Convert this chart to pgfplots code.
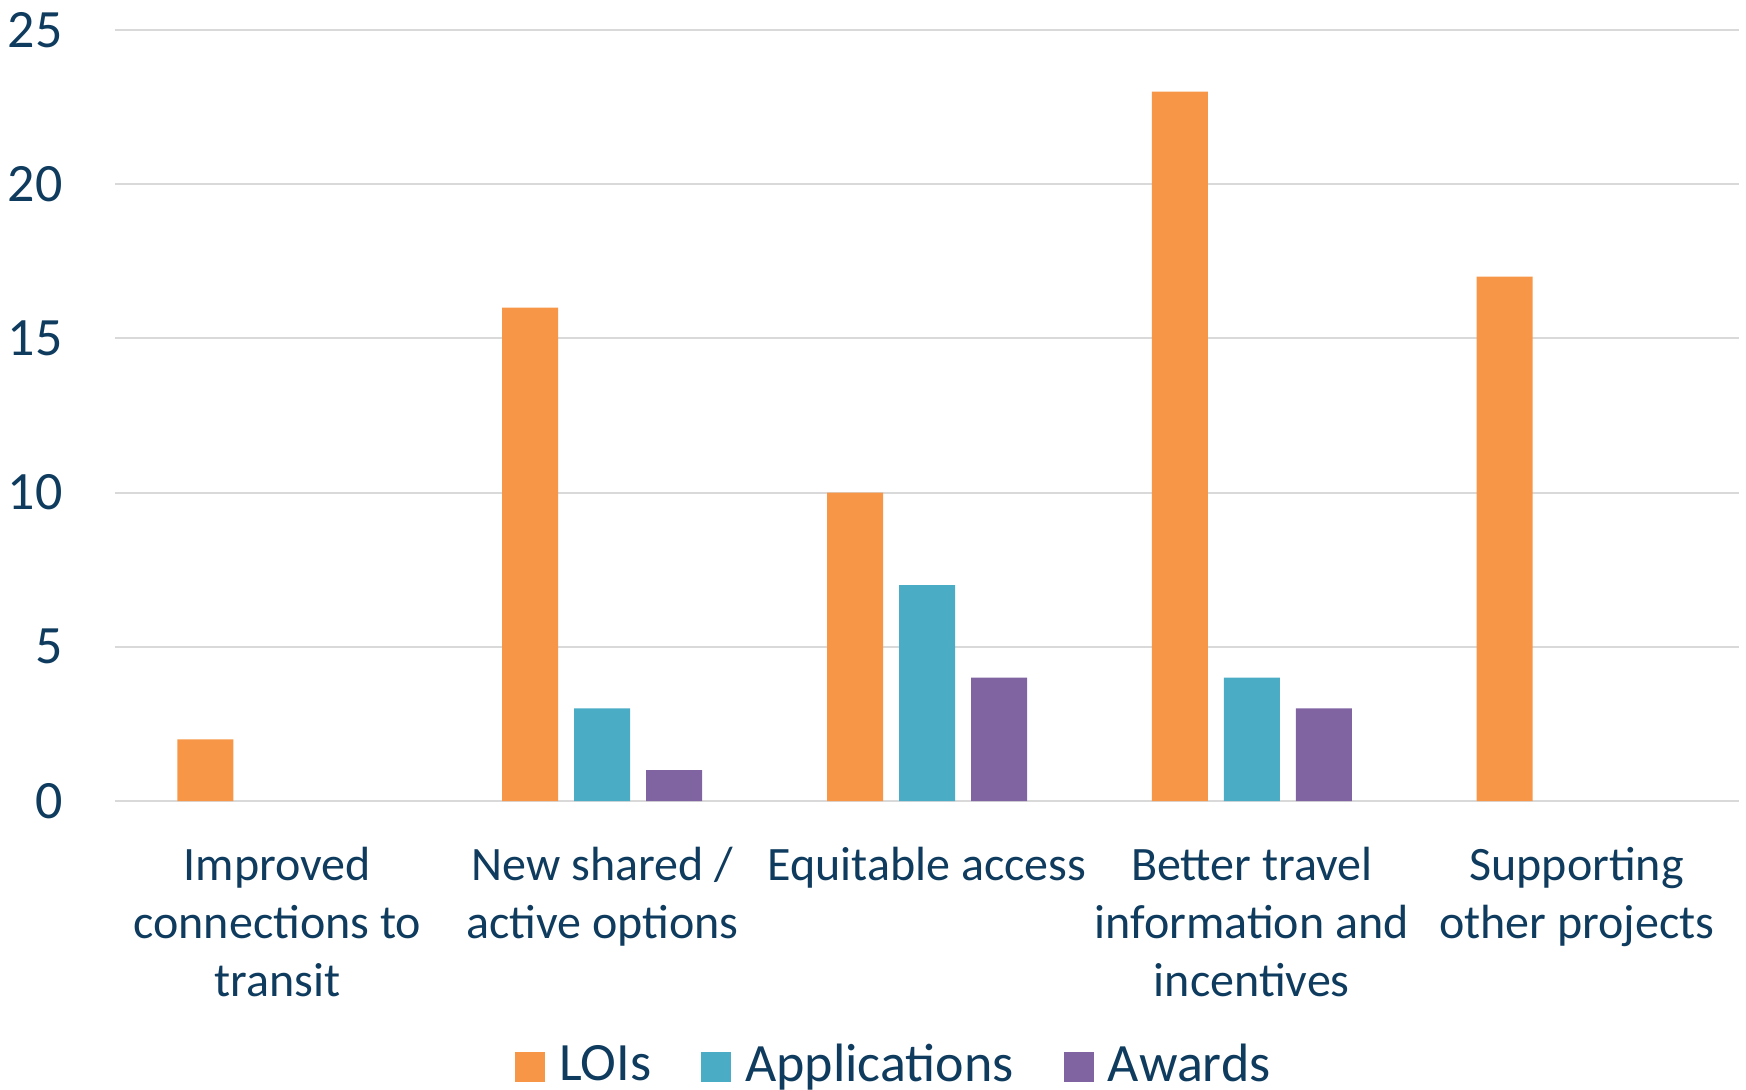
\documentclass[border=0pt]{standalone}
\usepackage{fontspec}
\setmainfont{Carlito}
\usepackage{pgfplots}
\pgfplotsset{compat=1.18}
\definecolor{loi}{HTML}{F79646}
\definecolor{app}{HTML}{4BACC6}
\definecolor{awd}{HTML}{8064A2}
\definecolor{txt}{HTML}{0F3C5E}
\definecolor{gridc}{HTML}{D9D9D9}

\begin{document}
\begin{tikzpicture}
\useasboundingbox (0,0) rectangle (873pt,544.5pt);
\begin{axis}[
    at={(57.5pt,144pt)}, anchor=south west,
    width=812pt, height=385.5pt, scale only axis,
    ybar=8pt, bar width=28pt,
    xmin=-0.5, xmax=4.5, ymin=0, ymax=25,
    xtick={0,...,4}, ytick={0,5,...,25},
    xticklabels={{Improved\\connections to\\transit},
                 {New shared /\\active options},
                 {Equitable access},
                 {Better travel\\information and\\incentives},
                 {Supporting\\other projects}},
    axis line style={draw=none},
    major tick length=0pt,
    ymajorgrids,
    grid style={gridc, line width=1pt},
    /pgf/number format/assume math mode=true,
    xticklabel style={font=\fontsize{24}{29}\selectfont, text=txt, align=center,
                      anchor=north, inner sep=0pt, yshift=-23pt},
    yticklabel style={font=\fontsize{27}{32}\selectfont, text=txt,
                      anchor=east, inner sep=0pt, xshift=-26pt},
    legend columns=3,
    legend style={at={(0.479,-0.342)}, anchor=center, draw=none, fill=none,
                  font=\fontsize{27}{32}\selectfont, text=txt,
                  nodes={inner sep=0pt},
                  /tikz/every odd column/.append style={column sep=7pt},
                  /tikz/every even column/.append style={column sep=25pt}},
    legend image code/.code={\fill[#1] (0pt,-8.5pt) rectangle (15pt,6.5pt);},
]
\addplot[fill=loi, draw=none] coordinates {(0,2) (1,16) (2,10) (3,23) (4,17)};
\addplot[fill=app, draw=none] coordinates {(1,3) (2,7) (3,4)};
\addplot[fill=awd, draw=none] coordinates {(1,1) (2,4) (3,3)};
\legend{LOIs, Applications, Awards}
\end{axis}
\end{tikzpicture}
\end{document}
